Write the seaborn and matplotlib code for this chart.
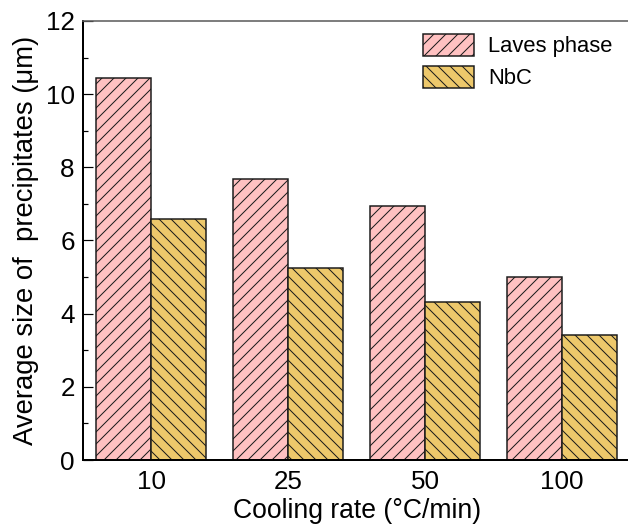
import matplotlib
matplotlib.use("Agg")
import matplotlib.pyplot as plt
from matplotlib.ticker import MultipleLocator
import seaborn as sns
import pandas as pd

# Average precipitate size per cooling rate
cooling_rates = ["10", "25", "50", "100"]
laves_size = [10.43, 7.67, 6.94, 4.99]
nbc_size = [6.59, 5.26, 4.32, 3.42]
phases = ["Laves phase", "NbC"]

df = pd.DataFrame({
    "rate": cooling_rates * 2,
    "size": laves_size + nbc_size,
    "phase": [phases[0]] * len(cooling_rates) + [phases[1]] * len(cooling_rates),
})

sns.set_style("ticks")
plt.rcParams["font.family"] = ["Liberation Sans", "DejaVu Sans"]
plt.rcParams["hatch.linewidth"] = 1.0
plt.rcParams["hatch.color"] = "black"
plt.rcParams["text.color"] = "black"
plt.rcParams["axes.labelcolor"] = "black"
plt.rcParams["xtick.color"] = "black"
plt.rcParams["ytick.color"] = "black"

DPI = 72
fig = plt.figure(figsize=(628 / DPI, 531 / DPI), dpi=DPI)
ax = fig.add_axes([0.1317, 0.1337, 0.8723, 0.8268])

sns.barplot(
    data=df, x="rate", y="size", hue="phase", order=cooling_rates,
    hue_order=phases, palette=["#FFC1C1", "#EDC86B"], saturation=1,
    width=0.8, gap=0, errorbar=None, edgecolor="#1a1a1a", linewidth=1.5,
    legend=False, ax=ax,
)

for container, hatch in zip(ax.containers, ["//", "\\\\"]):
    for bar in container:
        bar.set_hatch(hatch)

ax.set_xlim(-0.5, 3.5)
ax.set_ylim(0, 12)
ax.yaxis.set_major_locator(MultipleLocator(2))
ax.yaxis.set_minor_locator(MultipleLocator(1))
ax.tick_params(axis="y", which="major", direction="in", length=10, width=1.2,
               labelsize=26, pad=8, colors="black")
ax.tick_params(axis="y", which="minor", direction="in", length=5, width=1.2,
               colors="black")
ax.tick_params(axis="x", which="both", length=0, labelsize=26, pad=10,
               colors="black")

ax.set_xlabel("Cooling rate (°C/min)", fontsize=26.5, labelpad=4, color="black")
ax.set_ylabel("Average size of  precipitates (μm)", fontsize=27.5, labelpad=7,
              color="black")

for side in ["left", "bottom"]:
    ax.spines[side].set_linewidth(2)
    ax.spines[side].set_color("black")
ax.spines["top"].set_linewidth(1.6)
ax.spines["top"].set_color("#606060")
ax.spines["right"].set_visible(False)

leg = ax.legend(
    handles=ax.containers, labels=phases, loc="upper left",
    bbox_to_anchor=(0.621, 0.970), frameon=False, fontsize=22,
    borderpad=0, handlelength=2.32, handleheight=1.14,
    handletextpad=0.64, labelspacing=0.39, borderaxespad=0,
)
for t in leg.get_texts():
    t.set_color("black")

fig.savefig("out.png", dpi=DPI)
